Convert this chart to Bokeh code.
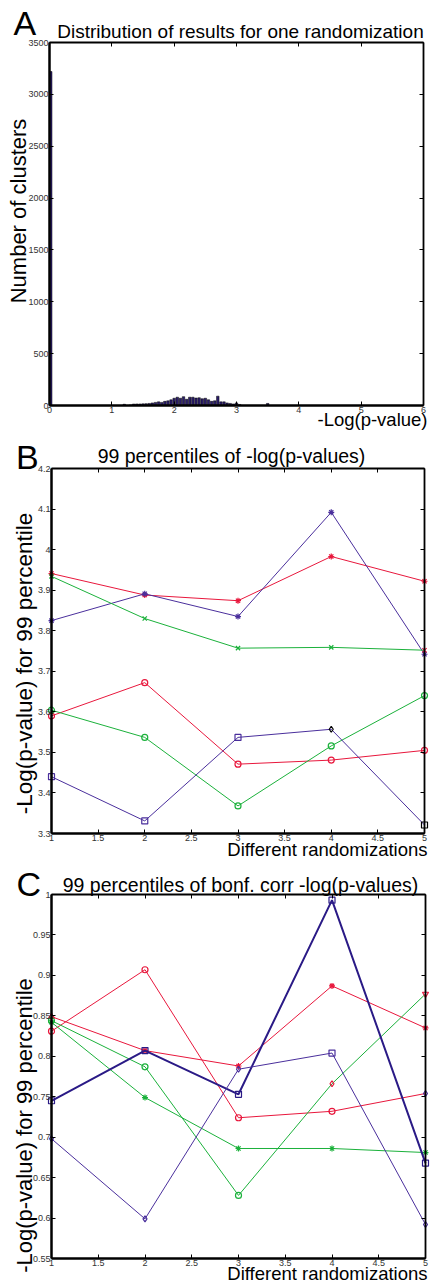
import math
from bokeh.plotting import figure
from bokeh.models import Label, LinearAxis, FixedTicker, Range1d
from bokeh.layouts import column
from bokeh.embed import file_html
from bokeh.resources import INLINE

# ---------------- data ----------------
# Panel A: histogram of -log(p-value) for one randomization
hist_centers = [0.02, 1.2, 1.3, 1.35, 1.4, 1.45, 1.5, 1.55, 1.6, 1.65, 1.7, 1.75, 1.8,
                1.85, 1.9, 1.95, 2.0, 2.05, 2.1, 2.15, 2.2, 2.25, 2.3, 2.35, 2.4, 2.45,
                2.5, 2.55, 2.6, 2.65, 2.7, 2.75, 2.8, 2.85, 2.9, 2.95, 3.0, 3.05, 3.5]
hist_counts = [3220, 12, 6, 14, 15, 15, 16, 18, 20, 25, 30, 35, 30,
               40, 45, 55, 70, 80, 70, 85, 60, 80, 80, 72, 75, 65,
               70, 55, 40, 45, 90, 35, 35, 25, 20, 15, 25, 10, 20]
a_xticks = [0, 1, 2, 3, 4, 5, 6]
a_xlabels = ["0", "1", "2", "3", "4", "5", "6"]
a_yticks = [0, 500, 1000, 1500, 2000, 2500, 3000, 3500]
a_ylabels = ["0", "500", "1000", "1500", "2000", "2500", "3000", "3500"]

# Panels B and C: x = randomization number
rand_x = [1, 2, 3, 4, 5]
rand_xticks = [1, 1.5, 2, 2.5, 3, 3.5, 4, 4.5, 5]
rand_xlabels = ["1", "1.5", "2", "2.5", "3", "3.5", "4", "4.5", "5"]

# Panel B: 99 percentiles of -log(p-values)
b_red_star = [3.941, 3.888, 3.874, 3.983, 3.922]
b_purple_star = [3.825, 3.891, 3.835, 4.092, 3.742]
b_green_x = [3.934, 3.830, 3.757, 3.759, 3.752]
b_red_circle = [3.590, 3.672, 3.471, 3.481, 3.505]
b_green_circle = [3.604, 3.537, 3.368, 3.516, 3.640]
b_purple_square = [3.440, 3.331, 3.537, 3.557, 3.321]
b_yticks = [3.3, 3.4, 3.5, 3.6, 3.7, 3.8, 3.9, 4.0, 4.1, 4.2]
b_ylabels = ["3.3", "3.4", "3.5", "3.6", "3.7", "3.8", "3.9", "4", "4.1", "4.2"]

# Panel C: 99 percentiles of bonf. corr -log(p-values)
c_red_star = [0.849, 0.807, 0.788, 0.887, 0.835]
c_red_circle = [0.831, 0.907, 0.724, 0.732, 0.754]
c_green_circle = [0.844, 0.787, 0.628, 0.766, 0.877]
c_green_star = [0.842, 0.749, 0.686, 0.686, 0.681]
c_navy_square = [0.745, 0.807, 0.753, 0.993, 0.668]
c_purple_diamond = [0.698, 0.599, 0.784, 0.804, 0.592]
c_yticks = [0.55, 0.6, 0.65, 0.7, 0.75, 0.8, 0.85, 0.9, 0.95, 1.0]
c_ylabels = ["0.55", "0.6", "0.65", "0.7", "0.75", "0.8", "0.85", "0.9", "0.95", "1"]

# ---------------- style ----------------
RED = "#e8173c"
GREEN = "#1bb13b"
PURPLE = "#4a2f9c"
NAVY = "#2a1a86"
FONT = "Liberation Sans"
W = 431


def make_fig(H, box, xdom, ydom, xticks, xlabels, yticks, ylabels):
    """box = (left px, right px, top px, bottom px) of the axes box in the canvas."""
    bl, br, bt, bb = box
    xa, xb = xdom
    ya, yb = ydom
    sx = (br - bl) / (xb - xa)
    sy = (bb - bt) / (yb - ya)
    xr = Range1d(xa - bl / sx, xb + (W - br) / sx)
    yr = Range1d(ya - (H - bb) / sy, yb + bt / sy)
    p = figure(width=W, height=H, x_range=xr, y_range=yr,
               output_backend="svg", toolbar_location=None,
               x_axis_location=None, y_axis_location=None,
               min_border_left=0, min_border_right=0, min_border_top=0,
               min_border_bottom=0)
    p.grid.visible = False
    p.outline_line_color = None
    p.background_fill_color = "white"
    p.border_fill_color = "white"
    specs = [("below", xticks, xlabels, ya, (xa, xb), True),
             ("left", yticks, ylabels, xa, (ya, yb), True),
             ("above", xticks, xlabels, yb, (xa, xb), False),
             ("right", yticks, ylabels, xb, (ya, yb), False)]
    for loc, ticks, labels, fixed, bounds, main in specs:
        ax = LinearAxis(ticker=FixedTicker(ticks=ticks), fixed_location=fixed,
                        bounds=bounds)
        ax.major_tick_in = 4
        ax.major_tick_out = 0
        ax.major_tick_line_color = "black"
        ax.minor_tick_line_color = None
        ax.axis_line_color = "black"
        if main:
            ax.axis_line_width = 2.5
            ax.major_label_overrides = dict(zip(ticks, labels))
            ax.major_label_text_font = FONT
            ax.major_label_text_font_size = "9px"
            ax.major_label_text_color = "#333333"
            ax.major_label_standoff = 1
        else:
            ax.axis_line_width = 1.8
            ax.major_label_text_font_size = "0px"
            ax.major_label_standoff = 0
            ax.major_label_text_alpha = 0
        p.add_layout(ax, loc)
    return p


def txt(p, H, x, ymid, text, size, align="left", angle=0.0):
    # ymid: vertical middle of the text, in px from the top of this figure
    p.add_layout(Label(x=x, y=H - ymid, x_units="screen", y_units="screen",
                       text=text, text_font=FONT, text_font_size=size,
                       text_color="black", text_baseline="middle",
                       text_align=align, angle=angle))


def add_series(p, y, color, marker, lw=1.0, msize=6, odd=None):
    p.line(rand_x, y, line_color=color, line_width=lw)
    colors = [color] * len(y)
    markers = [marker] * len(y)
    if odd:
        for i, (m, c) in odd.items():
            markers[i] = m
            colors[i] = c
    for xi, yi, m, c in zip(rand_x, y, markers, colors):
        p.scatter([xi], [yi], marker=m, size=msize, line_color=c,
                  fill_color=None, line_width=1.2)


# ---------------- panel A ----------------
HA = 438
pa = make_fig(HA, (49, 423, 42, 405), (0, 6), (0, 3500),
              a_xticks, a_xlabels, a_yticks, a_ylabels)
pa.vbar(x=hist_centers, top=hist_counts, width=0.04, bottom=0,
        fill_color="#2b1d6b", line_color="black", line_width=0.5)
txt(pa, HA, 13, 22.3, "A", "34px")
txt(pa, HA, 240, 30.9, "Distribution of results for one randomization", "19px",
    align="center")
txt(pa, HA, 427, 419, "-Log(p-value)", "18.5px", align="right")
txt(pa, HA, 17.5, 210.5, "Number of clusters", "22px", align="center",
    angle=math.pi / 2)

# ---------------- panel B ----------------
HB = 428
pb = make_fig(HB, (51, 424, 30, 395), (1, 5), (3.3, 4.2),
              rand_xticks, rand_xlabels, b_yticks, b_ylabels)
add_series(pb, b_red_star, RED, "asterisk")
add_series(pb, b_purple_star, PURPLE, "asterisk")
add_series(pb, b_green_x, GREEN, "x", odd={4: ("x", RED)})
add_series(pb, b_red_circle, RED, "circle")
add_series(pb, b_green_circle, GREEN, "circle")
add_series(pb, b_purple_square, PURPLE, "square",
           odd={3: ("diamond", "black"), 4: ("square", "black")})
txt(pb, HB, 15.5, 18.5, "B", "34px")
txt(pb, HB, 231, 17, "99 percentiles of -log(p-values)", "19.5px", align="center")
txt(pb, HB, 427, 411.2, "Different randomizations", "18.5px", align="right")
txt(pb, HB, 24, 225, "-Log(p-value) for 99 percentile", "22.5px", align="center",
    angle=math.pi / 2)

# ---------------- panel C ----------------
HC = 417
pc = make_fig(HC, (51, 425, 28, 392), (1, 5), (0.55, 1.0),
              rand_xticks, rand_xlabels, c_yticks, c_ylabels)
add_series(pc, c_red_star, RED, "asterisk", odd={0: ("triangle", RED)})
add_series(pc, c_red_circle, RED, "circle", odd={4: ("diamond", PURPLE)})
add_series(pc, c_green_circle, GREEN, "circle",
           odd={3: ("diamond", RED), 4: ("inverted_triangle", RED)})
add_series(pc, c_green_star, GREEN, "asterisk")
add_series(pc, c_navy_square, NAVY, "square", lw=2.0)
add_series(pc, c_purple_diamond, PURPLE, "diamond", odd={3: ("square", PURPLE)})
txt(pc, HC, 16, 17.3, "C", "34px")
txt(pc, HC, 240, 18.2, "99 percentiles of bonf. corr -log(p-values)", "19.5px",
    align="center")
txt(pc, HC, 427, 406.8, "Different randomizations", "18.5px", align="right")
txt(pc, HC, 24, 259, "-Log(p-value) for 99 percentile", "22px", align="center",
    angle=math.pi / 2)

layout = column(pa, pb, pc, spacing=0)
open("out.html", "w").write(file_html(layout, INLINE))
